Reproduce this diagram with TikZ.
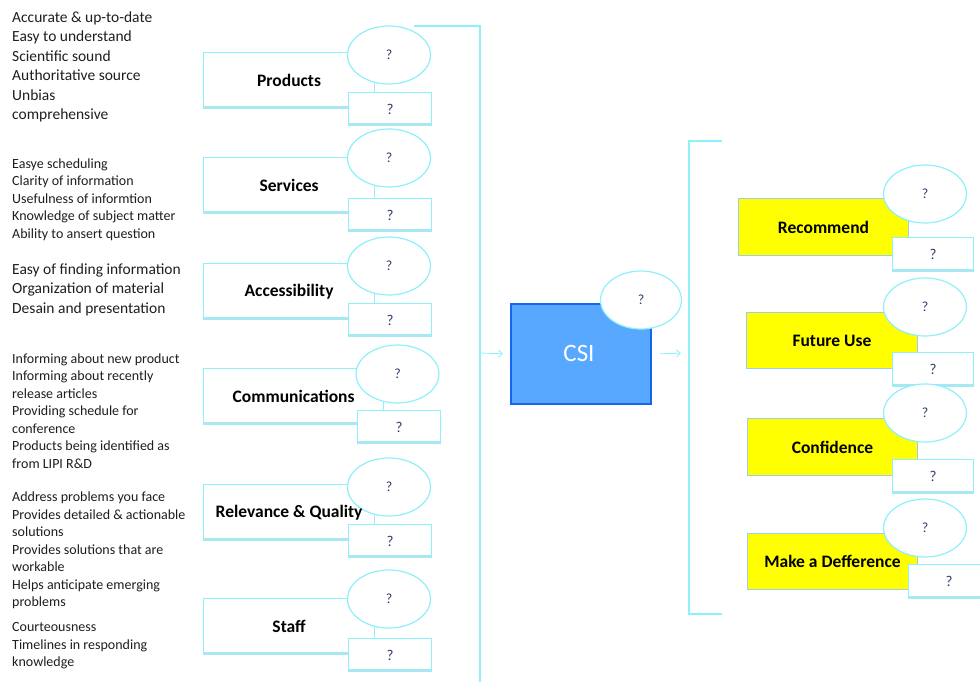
\documentclass[tikz,border=0pt]{standalone}
\usepackage{fontspec}
\setmainfont{Carlito}
\usetikzlibrary{shapes.geometric,arrows.meta}
\definecolor{cyanline}{HTML}{8EF0FA}
\definecolor{shadowc}{HTML}{A8E8F2}
\definecolor{qcol}{HTML}{2E3F6E}
\definecolor{txt}{HTML}{1E1E1E}
\definecolor{csifill}{HTML}{58A8FF}
\definecolor{csiline}{HTML}{1466EE}
\definecolor{ylw}{HTML}{FFFF00}
\definecolor{ylwline}{HTML}{9CCCF2}
\tikzset{
 lbox/.style={draw=cyanline, line width=1.2pt, fill=white, anchor=north west, inner sep=0},
 ybox/.style={draw=ylwline, line width=1pt, fill=ylw, anchor=north west, inner sep=0},
 sbox/.style={draw=cyanline, line width=1.2pt, fill=white, anchor=north west, inner sep=0, font=\fontsize{15}{15}\selectfont, text=qcol},
 qell/.style={ellipse, draw=cyanline, line width=1.2pt, fill=white, minimum width=83pt, minimum height=58pt, inner sep=0, font=\fontsize{14}{14}\selectfont, text=qcol},
 lbl/.style={font=\fontsize{17.5}{17.5}\selectfont\bfseries, text=black, inner sep=0},
 bigtxt/.style={font=\fontsize{15.5}{15.5}\selectfont, text=txt, anchor=base west, inner sep=0},
 smalltxt/.style={font=\fontsize{14}{14}\selectfont, text=txt, anchor=base west, inner sep=0},
 link/.style={draw=cyanline, line width=1.3pt},
 arr/.style={draw=cyanline, line width=0.8pt, -{Straight Barb[length=4pt,width=7pt]}},
 shad/.style={draw=shadowc, line width=2.5pt},
}
\begin{document}
\begin{tikzpicture}[x=1pt,y=-1pt]
\useasboundingbox (0,0) rectangle (980,682);

% left description lists
\foreach \t [count=\i from 0] in {{Accurate \& up-to-date},{Easy to understand},{Scientific sound},{Authoritative source},{Unbias},{comprehensive}}
  \node[bigtxt] (ga-\i) at (12,{22.5+19.5*\i}) {\t};
\foreach \t [count=\i from 0] in {{Easye scheduling},{Clarity of information},{Usefulness of informtion},{Knowledge of subject matter},{Ability to ansert question}}
  \node[smalltxt] (gb-\i) at (12,{168+17.6*\i}) {\t};
\foreach \t [count=\i from 0] in {{Easy of finding information},{Organization of material},{Desain and presentation}}
  \node[bigtxt] (gc-\i) at (12,{274.3+19.5*\i}) {\t};
\foreach \t [count=\i from 0] in {{Informing about new product},{Informing about recently},{release articles},{Providing schedule for},{conference},{Products being identified as},{from LIPI R\&D}}
  \node[smalltxt] (gd-\i) at (12,{363.3+17.5*\i}) {\t};
\foreach \t [count=\i from 0] in {{Address problems you face},{Provides detailed \& actionable},{solutions},{Provides solutions that are},{workable},{Helps anticipate emerging},{problems}}
  \node[smalltxt] (ge-\i) at (12,{501.7+17.5*\i}) {\t};
\foreach \t [count=\i from 0] in {{Courteousness},{Timelines in responding},{knowledge}}
  \node[smalltxt] (gf-\i) at (12,{631.7+17.5*\i}) {\t};

% left category boxes
\foreach \n/\T/\ex/\ey/\sx/\sy/\bw/\lab in {
  prod/52/389/55/348/92/171/Products,
  serv/157/389/158/348/198/171/Services,
  acc/263/389/266/348/303/171/Accessibility,
  comm/368/397.5/374/357/410/180/Communications,
  rel/484/389/487/348/524/171/Relevance \& Quality,
  staff/598/389/599/348/638/171/Staff}{
  \node[lbox, minimum width=\bw, minimum height=56] (\n) at (203,\T) {};
  \draw[shad] ([yshift=1.5pt]\n.south west) -- ([yshift=1.5pt]\n.south east);
  \node[sbox, minimum width=83, minimum height=33] (\n s) at (\sx,\sy) {?};
  \draw[shad] ([yshift=1.5pt,xshift=1pt]\n s.south west) -- ([yshift=1.5pt,xshift=-1pt]\n s.south east);
  \node[qell] (\n e) at (\ex,\ey) {?};
  \node[lbl] (\n l) at (\n.center) {\lab};
}

% right outcome boxes
\foreach \n/\bx/\by/\bw/\bh/\ey/\sx/\sy/\lab in {
  rec/738/198/170/57/194/892/237/Recommend,
  fut/746/312/171/56/307/892/352/Future Use,
  conf/747/418/170/57/413/892/459/Confidence,
  make/747/533/170/56/528/908/564/Make a Defference}{
  \node[ybox, minimum width=\bw, minimum height=\bh] (\n) at (\bx,\by) {};
  \node[sbox, minimum width=81, minimum height=34] (\n s) at (\sx,\sy) {?};
  \draw[shad] ([yshift=1.5pt,xshift=1pt]\n s.south west) -- ([yshift=1.5pt,xshift=-1pt]\n s.south east);
  \node[qell] (\n e) at (925,\ey) {?};
  \node[lbl] (\n l) at (\n.center) {\lab};
}

% CSI
\node[draw=csiline, line width=2pt, fill=csifill, anchor=north west, minimum width=140, minimum height=100, inner sep=0] (csi) at (510,303) {};
\node[qell, minimum width=81pt] (csie) at (641,300) {?};
\node[font=\fontsize{25}{25}\selectfont, text=white, inner sep=0] (csil) at (579,353) {CSI};

% brackets and arrows
\coordinate (lbtop) at (414,26);
\coordinate (lbcorner) at (480,26);
\coordinate (lbbot) at (480,682);
\coordinate (lbmid) at (480,353);
\draw[link] (lbtop) -- (lbcorner) -- (lbbot);
\draw[arr, shorten >=7pt] (lbmid) -- (csi.west);

\coordinate (rbtop) at (722,141);
\coordinate (rbc1) at (689,141);
\coordinate (rbc2) at (689,614);
\coordinate (rbbot) at (722,614);
\coordinate (rbmid) at (689,353);
\draw[link] (rbtop) -- (rbc1) -- (rbc2) -- (rbbot);
\draw[arr, shorten <=8pt, shorten >=8pt] (csi.east) -- (rbmid);
\end{tikzpicture}
\end{document}
